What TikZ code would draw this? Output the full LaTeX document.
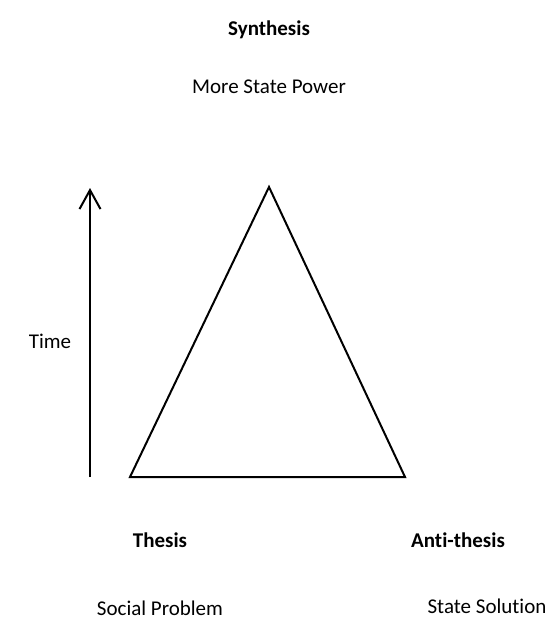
\documentclass[tikz,border=0pt]{standalone}
\usepackage{fontspec}
\setmainfont{Carlito}[Ligatures=NoCommon]
\usetikzlibrary{arrows.meta,positioning}
\tikzset{
  lbl/.style={inner sep=0pt, font=\fontsize{21}{25}\selectfont},
  boldlbl/.style={lbl, font=\fontsize{21}{25}\selectfont\bfseries},
  edge/.style={line width=2pt, draw=black},
  timearr/.style={-{Straight Barb[length=19pt,width=21pt,line width=2pt]}, line width=2pt}
}
\begin{document}
\begin{tikzpicture}[x=1pt,y=-1pt]
\useasboundingbox (0,0) rectangle (554,629);
% triangle
\coordinate (top) at (269,187);
\coordinate (left) at (130,477);
\coordinate (right) at (405,477);
\draw[edge, line join=miter] (left) -- (top) -- (right) -- cycle;
% time arrow
\coordinate (tstart) at (90,477);
\coordinate (tend) at (90,188);
\draw[timearr] (tstart) -- (tend);
\node[lbl] (time) at (50,341) {Time};
% labels
\node[boldlbl] (synth) at (269,30) {Synthesis};
\node[lbl] (power) at (269,87) {More State Power};
\node[boldlbl] (thesis) at (160,540) {Thesis};
\node[lbl] (social) at (160,608) {Social Problem};
\node[boldlbl] (anti) at (458,540) {Anti-thesis};
\node[lbl] (solution) at (487,606) {State Solution};
\end{tikzpicture}
\end{document}
